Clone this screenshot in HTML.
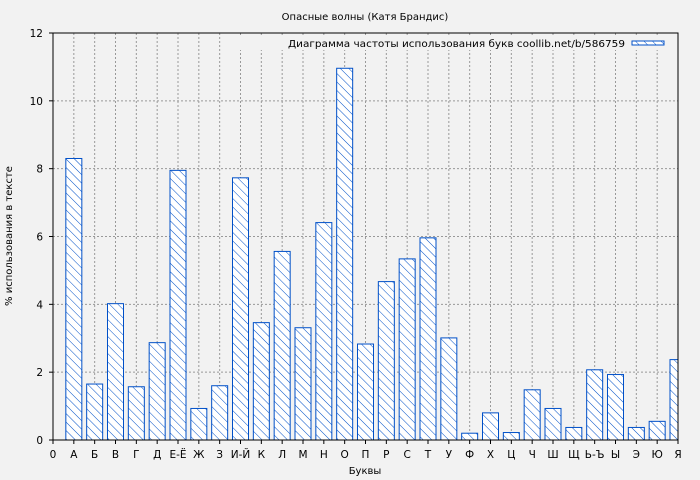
<!DOCTYPE html>
<html><head><meta charset="utf-8"><style>
body{margin:0;background:#f2f2f2;}
svg{display:block;font-family:"DejaVu Sans","Liberation Sans",sans-serif;}
</style></head><body>
<svg width="700" height="480" xmlns="http://www.w3.org/2000/svg">
<defs>
<pattern id="h" patternUnits="userSpaceOnUse" width="6" height="6" patternTransform="rotate(-45)">
<rect width="6" height="6" fill="#fff"/>
<line x1="0" y1="0" x2="0" y2="6" stroke="#0050c8" stroke-width="1"/>
</pattern>
<clipPath id="c"><rect x="53" y="33" width="625" height="407"/></clipPath>
</defs>
<rect width="700" height="480" fill="#f2f2f2"/>
<g id="grid" stroke="#999" stroke-dasharray="2,2" stroke-width="1"></g>
<g id="bars" clip-path="url(#c)"></g>
<rect x="53" y="33" width="625" height="407" fill="none" stroke="#000" stroke-width="1"/>
<g id="ticks" font-size="10.5" fill="#000"></g>
<text x="365" y="20" font-size="10" text-anchor="middle">Опасные волны (Катя Брандис)</text>
<text x="365" y="474" font-size="10" text-anchor="middle">Буквы</text>
<text transform="translate(12,236) rotate(-90)" font-size="10" text-anchor="middle">% использования в тексте</text>
<rect x="240" y="36" width="432" height="14" fill="#f2f2f2"/>
<text x="625" y="47" font-size="10" text-anchor="end" textLength="337" lengthAdjust="spacingAndGlyphs">Диаграмма частоты использования букв coollib.net/b/586759</text>
<rect x="632" y="41" width="32" height="4" fill="url(#h)" stroke="#0050c8"/>
<script>
var L=["0","А","Б","В","Г","Д","Е-Ё","Ж","З","И-Й","К","Л","М","Н","О","П","Р","С","Т","У","Ф","Х","Ц","Ч","Ш","Щ","Ь-Ъ","Ы","Э","Ю","Я"];
var V=[8.3,1.65,4.02,1.57,2.87,7.95,0.93,1.6,7.73,3.46,5.56,3.31,6.41,10.96,2.83,4.67,5.34,5.96,3.01,0.2,0.8,0.22,1.48,0.93,0.37,2.07,1.93,0.37,0.55,2.37];
var ns="http://www.w3.org/2000/svg";
function el(t,a,p,tx){var e=document.createElementNS(ns,t);for(var k in a)e.setAttribute(k,a[k]);if(tx)e.textContent=tx;document.getElementById(p).appendChild(e);}
var dx=625/30,sy=407/12;
for(var i=0;i<=30;i++){var x=53+i*dx;
 if(i>0&&i<30)el("line",{x1:x,y1:33,x2:x,y2:440},"grid");
 el("line",{x1:x,y1:440,x2:x,y2:444,stroke:"#000"},"ticks");
 el("text",{x:x,y:458,"text-anchor":"middle"},"ticks",L[i]);}
for(var j=0;j<=12;j+=2){var y=440-j*sy;
 if(j>0&&j<12)el("line",{x1:53,y1:y,x2:678,y2:y},"grid");
 el("line",{x1:49,y1:y,x2:53,y2:y,stroke:"#000"},"ticks");
 el("text",{x:43,y:y+4,"text-anchor":"end"},"ticks",String(j));}
for(var i=0;i<30;i++){var x=53+(i+1)*dx,h=V[i]*sy;
 el("rect",{x:x-8,y:440-h,width:16,height:h,fill:"url(#h)",stroke:"#0050c8","stroke-width":1},"bars");}
</script>
</svg>
</body></html>
